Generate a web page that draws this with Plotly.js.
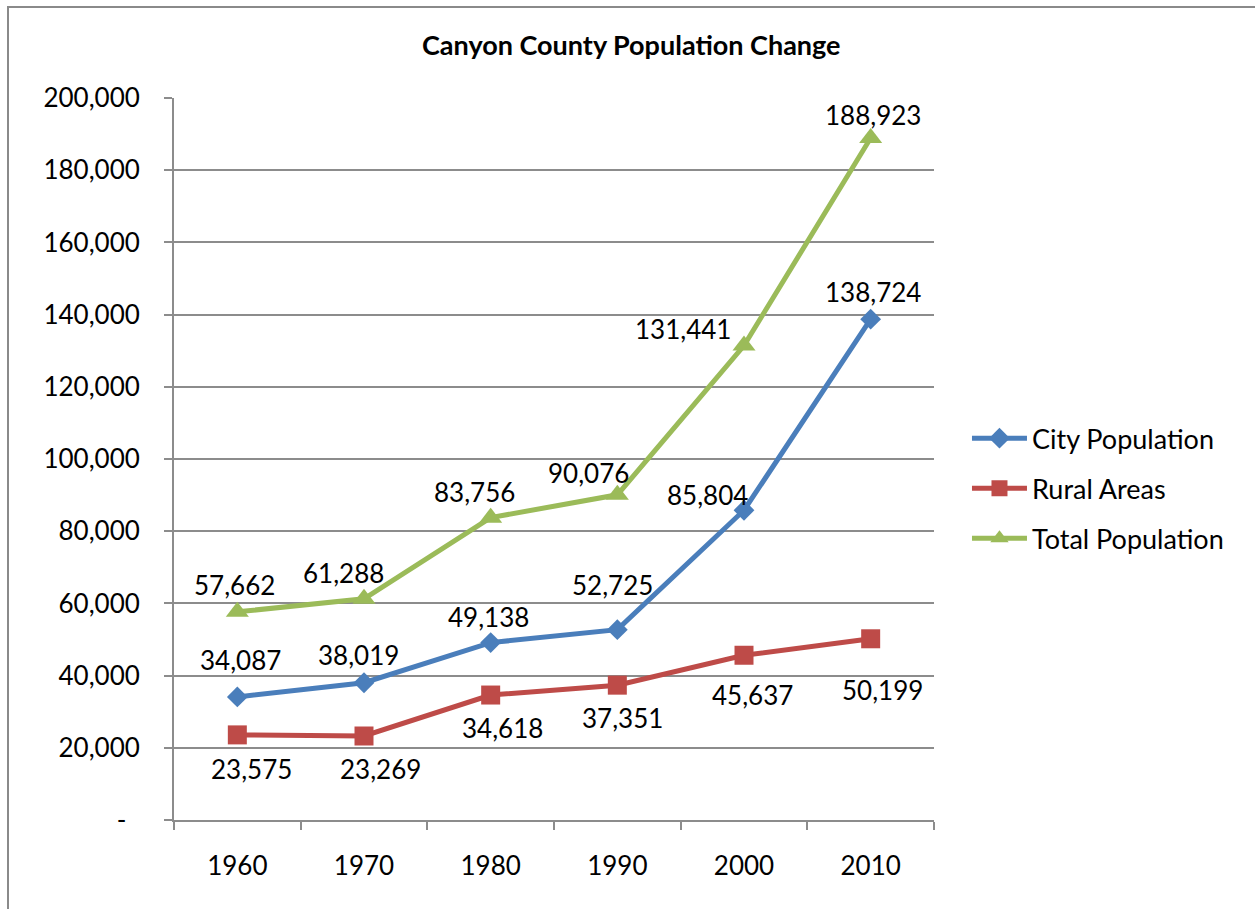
<!DOCTYPE html>
<html>
<head>
<meta charset="utf-8">
<script src="https://cdn.plot.ly/plotly-3.0.1.min.js"></script>
<style>
  html, body { margin: 0; padding: 0; background: #fff; }
  #chart { position: absolute; left: 0; top: 0; width: 1255px; height: 909px; }
  #frame { position: absolute; left: 7px; top: 6px; right: 0; bottom: 0;
           border-left: 2px solid #8a8a8a; border-top: 2px solid #8a8a8a; pointer-events: none; }
</style>
</head>
<body>
<div id="chart"></div>
<div id="frame"></div>
<script>
// ---- data ----
const years = ["1960", "1970", "1980", "1990", "2000", "2010"];
const cityPopulation = [34087, 38019, 49138, 52725, 85804, 138724];
const ruralAreas = [23575, 23269, 34618, 37351, 45637, 50199];
const totalPopulation = [57662, 61288, 83756, 90076, 131441, 188923];
const yTickValues = [0, 20000, 40000, 60000, 80000, 100000, 120000, 140000, 160000, 180000, 200000];

// ---- label offsets (px, layout only) ----
const cityOffX = [3, -6, -2, -5, -37, 2];
const cityOffY = [37, 28, 26, 45, 15, 27];
const ruralOffX = [14, 16, 12, 5, 8, 12];
const ruralOffY = [-34, -33, -33, -33, -40, -51];
const totalOffX = [-3, -21, -16, -29, -61, 2];
const totalOffY = [27, 26, 26, 22, 17, 23];

const FONT = "Lato, 'Open Sans', sans-serif";
const NUM_SIZE = 26;
const fmt = v => v.toLocaleString('en-US');
const yTickText = yTickValues.map(v => v === 0 ? "-\u00a0\u00a0" : fmt(v));

const blue = "#4A7EBB", red = "#BE4B48", green = "#9BBB59";

function trace(name, vals, color, symbol, size, group) {
  return {
    type: "scatter", mode: "lines+markers", name: name,
    x: years, y: vals, legendgroup: group,
    line: { color: color, width: 5 },
    marker: { color: color, symbol: symbol, size: size, line: { width: 0 } },
    hoverinfo: "skip"
  };
}

const data = [
  trace("City Population", cityPopulation, blue, "diamond", 16, "a"),
  trace("Rural Areas", ruralAreas, red, "square", 19, "b"),
  trace("Total Population", totalPopulation, green, "triangle-up", 20, "c")
];

const annotations = [];
function addLabels(vals, ox, oy) {
  vals.forEach((v, i) => {
    annotations.push({
      x: i, y: v, xref: "x", yref: "y", text: fmt(v), showarrow: false,
      xanchor: "center", yanchor: "middle",
      xshift: ox[i], yshift: oy[i],
      font: { family: FONT, size: NUM_SIZE, color: "#000" }
    });
  });
}
addLabels(cityPopulation, cityOffX, cityOffY);
addLabels(ruralAreas, ruralOffX, ruralOffY);
addLabels(totalPopulation, totalOffX, totalOffY);

const gridColor = "#8c8c8c";
const layout = {
  width: 1255, height: 909,
  margin: { l: 174, r: 321, t: 98, b: 89 },
  paper_bgcolor: "#fff", plot_bgcolor: "#fff",
  font: { family: FONT, size: NUM_SIZE, color: "#000" },
  title: {
    text: "<b>Canyon County Population Change</b>",
    font: { family: FONT, size: 27, color: "#000" },
    xref: "container", yref: "container", x: 0.503, xanchor: "center",
    y: 1 - 46 / 909, yanchor: "middle"
  },
  showlegend: true,
  legend: {
    x: 1.0434, xanchor: "left", y: 0.459, yanchor: "middle",
    font: { family: FONT, size: 27, color: "#000" },
    tracegroupgap: 12, traceorder: "grouped", itemwidth: 55,
    bgcolor: "rgba(0,0,0,0)"
  },
  xaxis: {
    type: "category", range: [-0.5, 5.5],
    showgrid: false, zeroline: false,
    showline: true, linecolor: gridColor, linewidth: 2,
    ticks: "outside", tickson: "boundaries", ticklen: 8, tickcolor: gridColor, tickwidth: 2,
    ticklabelstandoff: 22,
    tickfont: { family: FONT, size: NUM_SIZE, color: "#000" },
    fixedrange: true
  },
  yaxis: {
    range: [0, 200000], tickvals: yTickValues, ticktext: yTickText,
    showgrid: true, gridcolor: gridColor, gridwidth: 2,
    zeroline: false,
    showline: true, linecolor: gridColor, linewidth: 2,
    ticks: "outside", ticklen: 8, tickcolor: gridColor, tickwidth: 2,
    ticklabelstandoff: 19,
    tickfont: { family: FONT, size: NUM_SIZE, color: "#000" },
    fixedrange: true
  },
  annotations: annotations
};

Plotly.newPlot("chart", data, layout, { displayModeBar: false, staticPlot: true });
</script>
</body>
</html>
